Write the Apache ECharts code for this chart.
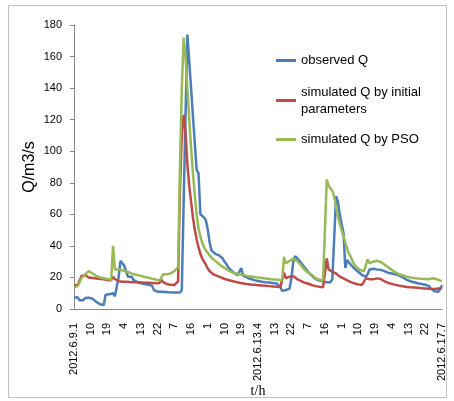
<!DOCTYPE html>
<html>
<head>
<meta charset="utf-8">
<script src="https://cdn.jsdelivr.net/npm/echarts@6/dist/echarts.min.js"></script>
<style>
  html, body { margin: 0; padding: 0; background: #fff; }
  #chart { width: 454px; height: 401px; }
</style>
</head>
<body>
<div id="chart"></div>
<script>
// hourly flow, 2012.6.9 1h -> 2012.6.17 7h (199 points)
var tickLabels = ['2012.6.9.1', '10', '19', '4', '13', '22', '7', '16', '1', '10', '19',
    '2012.6.13.4', '13', '22', '7', '16', '1', '10', '19', '4', '13', '22', '2012.6.17.7'];

var observedQ = [
    7.5, 7.5, 7.3, 5.5, 4.5, 5.5, 7, 7.4, 7.2, 6.8,
    6.5, 5.5, 4.5, 3.5, 3, 2.6, 2.5, 9, 9.3, 9.3,
    9.5, 10, 8, 8.3, 20, 30.5, 30, 27.5, 24, 20.5,
    19.5, 20.5, 18.5, 17.5, 17, 16.5, 16.3, 16, 15.8, 15.5,
    15.3, 15, 14.8, 12, 11, 11, 11, 11, 10.8, 10.8,
    10.8, 10.6, 10.6, 10.5, 10.5, 10.5, 10.5, 10.5, 12, 68,
    122, 174, 157, 140, 122, 105, 88, 86, 60, 59,
    58, 56, 50, 42, 37, 36, 35, 34.5, 34, 33,
    32, 30, 28.5, 26.5, 25, 24, 23, 22, 21.5, 21.5,
    26, 21, 20.5, 20, 19.5, 19, 18.5, 18.3, 18, 17.8,
    17.5, 17.3, 17.2, 17, 17, 16.8, 16.6, 16.5, 16.3, 16.2,
    16, 14, 11.5, 11, 12, 12.5, 13, 20, 30, 33.5,
    32.5, 31, 29.5, 28, 26.5, 25, 23.5, 22.5, 21, 20,
    19, 18.5, 18, 17.7, 17.5, 17.3, 17, 16.9, 17, 19,
    45, 71.5, 68, 60, 54, 48, 26, 31, 29.5, 28,
    27, 25.5, 24.5, 23.5, 22.5, 21.5, 21, 20.5, 22, 25,
    25.5, 25.5, 25.3, 25, 25, 24.8, 24.5, 24, 23.5, 23,
    22.8, 22.5, 22.2, 22, 21.5, 21.2, 21, 20, 19, 18.5,
    18, 17.6, 17.3, 17, 16.7, 16.3, 16, 15.8, 15.6, 15.4,
    15.2, 14.5, 13, 11.8, 11.2, 11, 11, 12.5, 15
];

var initialQ = [
    15, 15, 15.2, 18, 21, 22, 21.5, 20.5, 20, 19.8,
    19.6, 19.5, 19.3, 19.2, 19, 19, 18.8, 18.5, 18.3, 18.2,
    18.2, 20.5, 19, 18, 17.6, 17.4, 17.3, 17.3, 17.2, 17.2,
    17.1, 17, 17, 16.9, 16.9, 16.8, 16.8, 16.7, 16.7, 16.6,
    16.6, 16.5, 16.5, 16.4, 16.3, 16.3, 16.5, 18.5, 17, 16.2,
    15.8, 15.5, 15.3, 15.2, 15.2, 15.5, 17.5, 75, 110, 123,
    112, 92, 78, 68, 58, 50, 44, 39, 35, 32,
    30, 28, 25.5, 24, 23, 22, 21.5, 21, 20.5, 20,
    19.2, 19, 18.7, 18.4, 18, 17.8, 17.5, 17.2, 16.9, 16.6,
    16.4, 16.2, 16, 15.8, 15.7, 15.5, 15.4, 15.3, 15.2, 15.1,
    15, 14.9, 14.8, 14.7, 14.6, 14.5, 14.4, 14.3, 14.2, 14.1,
    14, 13.9, 13.8, 23, 19.5, 20, 20.5, 20.5, 20.8, 20,
    19, 18.4, 17.8, 17.2, 16.7, 16.3, 16, 15.6, 15.2, 14.8,
    14.5, 14.3, 14.1, 13.9, 13.8, 13.7, 32, 25, 24.5, 23.5,
    23, 22.5, 21.5, 20.5, 20, 19.4, 18.8, 18.2, 17.6, 17,
    16.5, 16.2, 15.9, 15.6, 15.4, 15.2, 15.2, 19.5, 20, 18.8,
    18.4, 18.8, 19.2, 19.4, 19.4, 19, 18.3, 17.6, 17, 16.5,
    16.2, 15.9, 15.6, 15.3, 15, 14.8, 14.6, 14.4, 14.2, 14,
    13.9, 13.8, 13.7, 13.6, 13.5, 13.4, 13.3, 13.2, 13.1, 13,
    12.9, 12.8, 12.7, 12.7, 12.8, 12.9, 13, 13.2, 13.5
];

var psoQ = [
    13.5, 14, 14.6, 17, 19.5, 20.5, 22, 23, 24, 23.5,
    22.5, 21.5, 21, 20.5, 20, 19.8, 19.5, 19.2, 19, 18.7,
    18.5, 40, 25, 24.5, 25, 24.8, 24.5, 24, 23.8, 23.5,
    23, 22.5, 22, 21.7, 21.5, 21.2, 21, 20.7, 20.3, 20,
    19.8, 19.5, 19.2, 19, 18.7, 18.4, 18, 17.7, 22, 21.5,
    22, 22.2, 22.6, 23, 24, 24.7, 26.5, 90, 140, 172,
    160, 140, 120, 102, 86, 72, 60, 51, 46, 42,
    39, 37, 35.5, 34, 32.5, 31.5, 30.5, 29.5, 28.5, 27.5,
    26.8, 26, 25.2, 24.5, 23.8, 23.3, 22.8, 22.5, 22.3, 22,
    21.8, 21.5, 21.3, 21, 20.8, 20.6, 20.5, 20.3, 20.1, 20,
    19.8, 19.6, 19.5, 19.4, 19.2, 19, 18.9, 18.8, 18.7, 18.6,
    18.5, 18.4, 18.3, 33, 29, 29.5, 30.5, 31, 32, 31.5,
    30.5, 29.5, 28, 26.5, 25, 24, 23, 22.3, 21.5, 20.5,
    19.5, 19, 18.5, 18.2, 18, 17.8, 82, 78, 76.5, 75,
    71, 65, 58.5, 54, 50, 46, 42, 38, 35, 33,
    30, 28, 26.5, 25.5, 24.7, 24.2, 23.8, 23.5, 31.5, 29,
    29.5, 30, 30.5, 30.6, 30.5, 29.8, 29, 28.2, 27.3, 26.5,
    25.5, 24.8, 24, 23.2, 22.6, 22, 21.5, 21.2, 20.8, 20.5,
    20.2, 20, 19.8, 19.6, 19.4, 19.3, 19.2, 19.1, 19, 19,
    18.9, 18.9, 18.8, 19.5, 19.6, 19, 18.5, 18, 17.7
];

window.onload = function(){
    flowChart();
}

function flowChart(){
    var myChart = echarts.init(document.getElementById('chart'));

    // one category per hour
    var hours = [];
    for (var i = 0; i < observedQ.length; i++) {
        hours.push('2012.6.' + (9 + Math.floor((i + 1) / 24)) + '.' + ((i + 1) % 24));
    }

    var font = 'Liberation Sans';
    var legendText = { fontSize: 13, fontFamily: font, color: '#000', lineHeight: 17 };

    var option = {
        animation: false,
        textStyle: { fontFamily: font },
        grid: { left: 74, right: 12, top: 25, bottom: 92, outerBoundsMode: 'none' },
        graphic: [{
            type: 'rect',
            shape: { x: 8.5, y: 5.5, width: 438, height: 392 },
            style: { fill: 'none', stroke: '#bfbfbf', lineWidth: 1 }
        }],
        legend: [
            {
                data: ['observed Q'], left: 276, top: 52, padding: 0,
                icon: 'rect', itemWidth: 20, itemHeight: 3, textStyle: legendText
            },
            {
                data: ['simulated Q by initial parameters'], left: 276, top: 75, padding: 0,
                icon: 'rect', itemWidth: 20, itemHeight: 3,
                formatter: function(name){ return name.replace(' parameters', '\nparameters'); },
                textStyle: Object.assign({}, legendText, { padding: [17, 0, 0, 0] })
            },
            {
                data: ['simulated Q by PSO'], left: 276, top: 131, padding: 0,
                icon: 'rect', itemWidth: 20, itemHeight: 3, textStyle: legendText
            }
        ],
        xAxis: {
            type: 'category',
            data: hours,
            boundaryGap: false,
            name: 't/h',
            nameLocation: 'middle',
            nameGap: 75,
            nameMoveOverlap: false,
            nameTextStyle: { fontFamily: 'Liberation Serif', fontSize: 14, color: '#000' },
            axisLine: { lineStyle: { color: '#868686' } },
            axisTick: { show: false },
            axisLabel: {
                interval: 8,
                rotate: 90,
                margin: 14,
                fontSize: 11,
                color: '#000',
                formatter: function(value, index){ return tickLabels[index / 9]; }
            },
            splitLine: { show: false }
        },
        yAxis: {
            type: 'value',
            min: 0,
            max: 180,
            interval: 20,
            name: 'Q/m3/s',
            nameLocation: 'middle',
            nameGap: 36,
            nameMoveOverlap: false,
            nameTextStyle: { fontSize: 16, color: '#000' },
            axisLine: { show: true, lineStyle: { color: '#868686' } },
            axisTick: { show: true, length: 4, lineStyle: { color: '#868686' } },
            axisLabel: { fontSize: 11, color: '#000', margin: 12 },
            splitLine: { show: false }
        },
        series: [
            {
                name: 'observed Q', type: 'line', data: observedQ, symbol: 'none',
                lineStyle: { width: 2.5 }
            },
            {
                name: 'simulated Q by initial parameters', type: 'line', data: initialQ, symbol: 'none',
                lineStyle: { width: 2.5 }
            },
            {
                name: 'simulated Q by PSO', type: 'line', data: psoQ, symbol: 'none',
                lineStyle: { width: 2.5 }
            }
        ],
        color: ['#4a7ebb', '#be4b48', '#98b954']
    };

    myChart.setOption(option);
}
</script>
</body>
</html>
